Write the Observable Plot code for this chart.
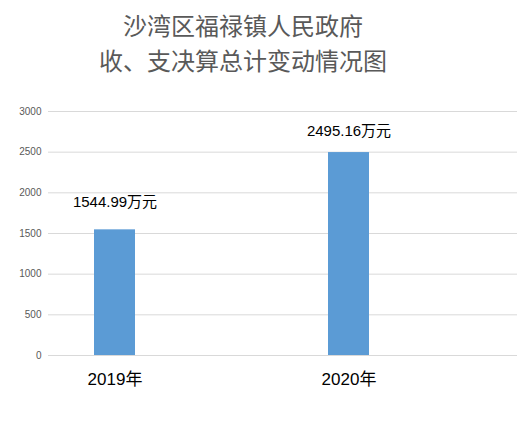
<!DOCTYPE html>
<html>
<head>
<meta charset="utf-8">
<script src="https://cdn.jsdelivr.net/npm/d3@7"></script>
<script src="https://cdn.jsdelivr.net/npm/@observablehq/plot@0.6"></script>
<style>
  html, body { margin: 0; padding: 0; background: #fff; }
  #title { width: 486px; height: 80px; box-sizing: border-box; padding-top: 7px; text-align: center;
    font-family: "Noto Sans CJK SC", sans-serif; font-size: 24px; color: #595959; }
  #title div { white-space: nowrap; height: 35px; line-height: 35px; }
</style>
</head>
<body>
<div id="title"></div>
<div id="chart"></div>
<script>
const titleLines = ["沙湾区福禄镇人民政府", "收、支决算总计变动情况图"];
const years = ["2019年", "2020年"];
const totals = [1544.99, 2495.16];
const unit = "万元";
const yTicks = [0, 500, 1000, 1500, 2000, 2500, 3000];

const titleEl = document.getElementById("title");
titleLines.forEach(t => { const d = document.createElement("div"); d.textContent = t; titleEl.appendChild(d); });

const data = years.map((y, i) => ({year: y, value: totals[i], label: totals[i].toFixed(2) + unit}));

const font = '"Liberation Sans", "Noto Sans CJK SC", sans-serif';

const chart = Plot.plot({
  width: 532,
  height: 344,
  marginLeft: 48,
  marginRight: 15,
  marginTop: 31,
  marginBottom: 69,
  style: {fontFamily: font, background: "#fff", overflow: "visible"},
  x: {domain: years, paddingInner: 0.825, paddingOuter: 0.4146, align: 0.237, label: null},
  y: {domain: [0, 3000], label: null},
  marks: [
    Plot.gridY(yTicks, {stroke: "#d9d9d9", strokeOpacity: 1, strokeWidth: 1}),
    Plot.barY(data, {x: "year", y: "value", fill: "#5b9bd5"}),
    Plot.text(data.filter((d, i) => i === 0), {x: "year", y: "value", text: "label", dy: -28, fontSize: 15, fill: "#000"}),
    Plot.text(data.filter((d, i) => i === 1), {x: "year", y: "value", text: "label", dy: -21, fontSize: 15, fill: "#000"}),
    Plot.axisY({ticks: yTicks, tickFormat: d => String(d), tickSize: 0, tickPadding: 7, fontSize: 10, color: "#595959", label: null}),
    Plot.axisX({tickSize: 0, tickPadding: 17, fontSize: 17, color: "#000", label: null})
  ]
});
document.getElementById("chart").appendChild(chart);
</script>
</body>
</html>
